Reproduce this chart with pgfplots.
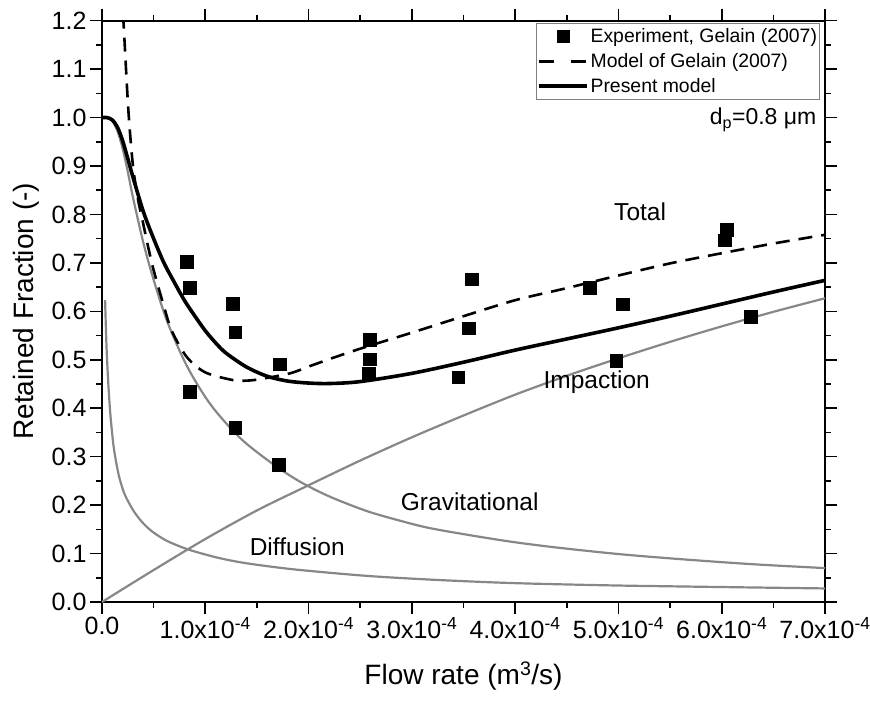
\documentclass[border=0pt]{standalone}
\usepackage{fontspec}
\setmainfont{Liberation Sans}
\usepackage{pgfplots}
\pgfplotsset{compat=1.18}
\definecolor{curvegray}{RGB}{135,135,135}

\begin{document}
\begin{tikzpicture}
\useasboundingbox (-102pt,-100pt) rectangle (768pt,602pt);
\begin{axis}[
  at={(0,0)}, anchor=south west,
  scale only axis, width=723pt, height=581.3pt,
  xmin=0, xmax=7e-4, ymin=0, ymax=1.2,
  xtick={0,1e-4,2e-4,3e-4,4e-4,5e-4,6e-4,7e-4},
  xticklabels={0.0,1.0x10\textsuperscript{-4},2.0x10\textsuperscript{-4},3.0x10\textsuperscript{-4},4.0x10\textsuperscript{-4},5.0x10\textsuperscript{-4},6.0x10\textsuperscript{-4},7.0x10\textsuperscript{-4}},
  scaled x ticks=false,
  ytick={0,0.1,0.2,0.3,0.4,0.5,0.6,0.7,0.8,0.9,1.0,1.1,1.2},
  yticklabel style={/pgf/number format/.cd, fixed, fixed zerofill, precision=1},
  /pgf/number format/assume math mode=true,
  minor x tick num=1, minor y tick num=1,
  tick align=outside,
  major tick length=12pt, minor tick length=6pt,
  every tick/.style={line width=1.6pt, black},
  axis line style={line width=2pt},
  tick label style={font=\fontsize{25}{28}\selectfont},
  xlabel={Flow rate (m\textsuperscript{3}/s)},
  ylabel={Retained Fraction (-)},
  label style={font=\fontsize{28}{32}\selectfont},
  xlabel style={at={(axis description cs:0.5,-0.127)}, anchor=center},
  ylabel style={at={(axis description cs:-0.105,0.5)}, anchor=center},
  legend style={at={(0.993,0.996)}, anchor=north east, draw=gray, line width=0.8pt,
    font=\fontsize{19.4}{22}\selectfont, inner xsep=1pt, inner ysep=5pt,
    row sep=8pt, nodes={inner xsep=1.5pt, inner ysep=0.5pt}},
  legend cell align=left,
]

% legend samples (drawn 16pt left of the cell origin to keep the text close)
\addlegendimage{legend image code/.code={\fill[black] (2pt,-6pt) rectangle (14pt,6pt);}}
\addlegendentry{Experiment, Gelain (2007)}
\addlegendimage{legend image code/.code={\draw[black, line width=2.6pt, dash pattern=on 15pt off 17pt] (-16pt,0pt) -- (32pt,0pt);}}
\addlegendentry{Model of Gelain (2007)}
\addlegendimage{legend image code/.code={\draw[black, line width=3.4pt] (-16pt,0pt) -- (32pt,0pt);}}
\addlegendentry{Present model}

% Diffusion
\addplot[curvegray, line width=2.2pt, smooth, forget plot] coordinates {
(0.03e-4,0.623) (0.035e-4,0.585) (0.045e-4,0.52) (0.06e-4,0.455) (0.08e-4,0.39)
(0.11e-4,0.325) (0.14e-4,0.285) (0.17e-4,0.255) (0.22e-4,0.222) (0.3e-4,0.19)
(0.38e-4,0.167) (0.46e-4,0.15) (0.55e-4,0.136) (0.65e-4,0.124) (0.84e-4,0.108)
(1.11e-4,0.092) (1.34e-4,0.082) (1.6e-4,0.074) (1.92e-4,0.066) (2.56e-4,0.054)
(3.2e-4,0.046) (3.85e-4,0.04) (4.34e-4,0.037) (5.0e-4,0.034) (5.63e-4,0.032)
(6.3e-4,0.030) (7.0e-4,0.028)};

% Gravitational
\addplot[curvegray, line width=2.2pt, smooth, forget plot] coordinates {
(0,1.0) (0.05e-4,0.999) (0.1e-4,0.993) (0.15e-4,0.972) (0.2e-4,0.936)
(0.25e-4,0.888) (0.3e-4,0.835) (0.4e-4,0.742) (0.5e-4,0.665) (0.63e-4,0.58)
(0.82e-4,0.488) (1.05e-4,0.408) (1.34e-4,0.338) (1.66e-4,0.284) (1.92e-4,0.248)
(2.2e-4,0.218) (2.56e-4,0.188) (2.9e-4,0.167) (3.21e-4,0.151) (3.85e-4,0.128)
(4.34e-4,0.114) (5.0e-4,0.099) (5.63e-4,0.088) (6.3e-4,0.078) (7.0e-4,0.07)};

% Impaction
\addplot[curvegray, line width=2.2pt, smooth, forget plot] coordinates {
(0,0) (0.5e-4,0.066) (1.0e-4,0.13) (1.5e-4,0.189) (2.0e-4,0.241) (2.5e-4,0.292)
(3.0e-4,0.34) (3.5e-4,0.385) (4.0e-4,0.428) (4.5e-4,0.467) (5.0e-4,0.503)
(5.5e-4,0.537) (6.0e-4,0.569) (6.5e-4,0.599) (7.0e-4,0.627)};

% Model of Gelain (2007)
\addplot[black, line width=2.6pt, dash pattern=on 14pt off 9pt, smooth, forget plot] coordinates {
(0.19e-4,1.26) (0.21e-4,1.19) (0.255e-4,1.016) (0.3e-4,0.9) (0.35e-4,0.83)
(0.4e-4,0.78) (0.45e-4,0.73) (0.5e-4,0.685) (0.6e-4,0.61) (0.675e-4,0.56)
(0.82e-4,0.506) (1.0e-4,0.474) (1.27e-4,0.458) (1.4e-4,0.457) (1.53e-4,0.46)
(1.82e-4,0.472) (2.0e-4,0.486) (2.25e-4,0.505) (2.56e-4,0.527) (3.0e-4,0.556)
(3.5e-4,0.59) (4.0e-4,0.623) (4.5e-4,0.648) (5.0e-4,0.674) (5.5e-4,0.699)
(6.0e-4,0.72) (6.5e-4,0.74) (7.0e-4,0.758)};

% Present model
\addplot[black, line width=3.6pt, smooth, forget plot] coordinates {
(0,1.0) (0.05e-4,1.0) (0.1e-4,0.995) (0.15e-4,0.98) (0.2e-4,0.952)
(0.25e-4,0.915) (0.3e-4,0.877) (0.4e-4,0.806) (0.5e-4,0.75) (0.6e-4,0.70)
(0.7e-4,0.66) (0.8e-4,0.622) (0.9e-4,0.59) (1.0e-4,0.56) (1.1e-4,0.535)
(1.2e-4,0.514) (1.4e-4,0.485) (1.6e-4,0.466) (1.8e-4,0.456) (2.0e-4,0.452)
(2.2e-4,0.451) (2.5e-4,0.455) (3.0e-4,0.472) (3.5e-4,0.495) (4.0e-4,0.52)
(4.5e-4,0.543) (5.0e-4,0.566) (5.5e-4,0.59) (6.0e-4,0.615) (6.5e-4,0.64)
(7.0e-4,0.664)};

% Experiment, Gelain (2007)
\addplot[only marks, mark=square*, mark size=6.3pt, black, forget plot] coordinates {
(0.82e-4,0.703) (0.85e-4,0.649) (0.85e-4,0.434) (1.265e-4,0.616) (1.29e-4,0.557)
(1.29e-4,0.36) (1.72e-4,0.491) (1.71e-4,0.284) (2.59e-4,0.542) (2.59e-4,0.501)
(2.58e-4,0.472) (3.45e-4,0.464) (3.55e-4,0.565) (3.58e-4,0.666) (4.72e-4,0.649)
(5.04e-4,0.615) (4.98e-4,0.498) (6.03e-4,0.747) (6.05e-4,0.768) (6.28e-4,0.589)};

% curve names
\node[font=\fontsize{24.5}{27}\selectfont] at (axis cs:5.21e-4,0.805) {Total};
\node[font=\fontsize{24.5}{27}\selectfont] at (axis cs:4.79e-4,0.454) {Impaction};
\node[font=\fontsize{24.5}{27}\selectfont] at (axis cs:3.56e-4,0.206) {Gravitational};
\node[font=\fontsize{24.5}{27}\selectfont] at (axis cs:1.89e-4,0.114) {Diffusion};
\node[anchor=east, font=\fontsize{23}{26}\selectfont] at (axis cs:6.95e-4,0.995) {d\textsubscript{p}=0.8 μm};
\end{axis}
\end{tikzpicture}
\end{document}
